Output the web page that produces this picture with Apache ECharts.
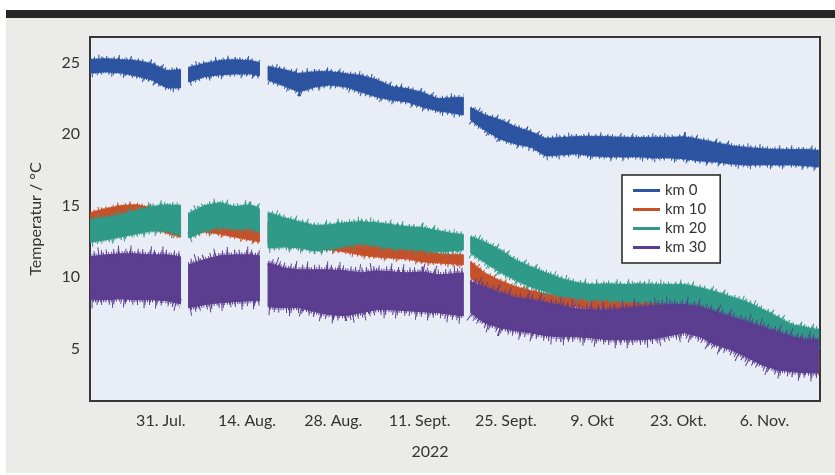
<!DOCTYPE html>
<html>
<head>
<meta charset="utf-8">
<script src="https://cdn.jsdelivr.net/npm/echarts@6/dist/echarts.min.js"></script>
<style>
  html, body { margin: 0; padding: 0; background: #ffffff; }
  #bar { position: absolute; left: 6px; top: 10px; width: 829px; height: 8px; background: #262626; }
  #panel { position: absolute; left: 6px; top: 18px; width: 829px; height: 455px; background: #ebebea; }
  #main { position: absolute; left: 0; top: 0; width: 835px; height: 475px; }
</style>
</head>
<body>
<div id="bar"></div>
<div id="panel"></div>
<div id="main"></div>
<script>
// Tage ab 31. Juli 2022 (null = Messlücke)
var days = [-11.4, -9, -6.5, -4, -1.5, 1, 3.2, null,
  4.5, 7, 9.5, 12, 14.5, 16, null,
  17.4, 20, 22.5, 25, 27.5, 30, 32.5, 35, 37.5, 40, 42.5, 45, 47.5, 49.1, null,
  50.3, 52.5, 55, 57.5, 60, 62.5, 65, 67.5, 70, 72.5, 75, 77.5, 80, 82.5, 85, 87.5, 90, 92.5, 95, 97.5, 100, 102.5, 105, 106.8];

var tickDays = [0, 14, 28, 42, 56, 70, 84, 98];
var tickLabels = ["31. Jul.", "14. Aug.", "28. Aug.", "11. Sept.", "25. Sept.", "9. Okt", "23. Okt.", "6. Nov."];
var yTicks = [5, 10, 15, 20, 25];

// obere / untere Hüllkurve je Station (°C)
var km0Hi = [25.21, 25.28, 25.21, 25.14, 24.93, 24.44, 24.51, null,
  24.65, 24.93, 25.14, 25.21, 25.14, 25.00, null,
  24.72, 24.51, 24.23, 24.37, 24.37, 24.23, 24.09, 23.81, 23.32, 23.18, 22.90, 22.48, 22.55, 22.55, null,
  21.85, 21.36, 21.01, 20.52, 20.17, 19.69, 19.76, 19.83, 19.83, 19.83, 19.76, 19.76, 19.76, 19.76, 19.83, 19.62, 19.41, 19.20, 19.06, 18.99, 18.92, 18.92, 18.92, 18.85];
var km0Lo = [24.30, 24.37, 24.30, 24.09, 23.81, 23.25, 23.25, null,
  23.67, 24.02, 24.16, 24.23, 24.23, 24.09, null,
  23.81, 23.39, 22.97, 23.32, 23.46, 23.32, 22.97, 22.62, 22.41, 22.27, 21.92, 21.64, 21.50, 21.36, null,
  21.01, 20.31, 19.69, 19.34, 19.13, 18.50, 18.57, 18.64, 18.50, 18.43, 18.43, 18.43, 18.36, 18.36, 18.29, 18.15, 18.08, 17.94, 17.87, 17.87, 17.87, 17.87, 17.80, 17.73];

var km10Hi = [14.51, 14.79, 15.00, 15.07, 14.86, 14.02, 13.81, null,
  14.37, 14.16, 14.02, 13.74, 13.60, 13.46, null,
  13.88, 13.46, 13.18, 13.04, 12.97, 12.90, 12.62, 12.34, 12.20, 12.06, 11.92, 11.64, 11.57, 11.57, null,
  11.08, 10.31, 9.76, 9.34, 9.06, 8.85, 8.71, 8.64, 8.57, 8.57, 8.50, 8.36, 8.29, 8.22, 8.22, 8.01, 7.66, 7.24, 6.75, 6.19, 5.63, 5.14, 4.79, 4.58];
var km10Lo = [13.53, 13.67, 13.88, 14.02, 13.46, 13.11, 12.83, null,
  12.97, 13.18, 13.04, 12.83, 12.62, 12.48, null,
  12.41, 12.20, 12.13, 11.99, 11.92, 11.78, 11.57, 11.43, 11.36, 11.29, 11.08, 11.01, 10.94, 10.87, null,
  9.97, 9.34, 8.92, 8.57, 8.29, 8.15, 8.01, 7.94, 7.80, 7.80, 7.73, 7.59, 7.52, 7.45, 7.38, 7.17, 6.75, 6.26, 5.70, 5.07, 4.51, 4.02, 3.53, 3.32];

var km20Hi = [14.02, 14.16, 14.37, 14.65, 14.93, 15.07, 15.00, null,
  14.44, 15.00, 15.21, 14.93, 15.07, 14.79, null,
  14.51, 14.16, 13.88, 13.60, 13.67, 13.81, 13.88, 13.81, 13.67, 13.53, 13.46, 13.25, 13.04, 12.97, null,
  12.83, 12.48, 11.92, 11.22, 10.73, 10.31, 9.90, 9.62, 9.48, 9.55, 9.48, 9.55, 9.48, 9.48, 9.48, 9.27, 8.99, 8.64, 8.29, 7.80, 7.24, 6.68, 6.47, 6.33];
var km20Lo = [12.48, 12.62, 12.83, 13.04, 13.25, 13.25, 12.97, null,
  12.76, 13.25, 13.53, 13.39, 13.46, 13.18, null,
  12.06, 12.13, 12.06, 11.85, 11.99, 12.20, 12.41, 12.20, 12.06, 11.99, 11.92, 11.78, 11.85, 11.92, null,
  11.71, 11.08, 10.38, 9.83, 9.34, 8.99, 8.71, 8.57, 8.43, 8.43, 8.36, 8.29, 8.29, 8.08, 8.01, 7.80, 7.52, 7.24, 6.89, 6.40, 5.91, 5.56, 5.21, 4.93];

var km30Hi = [11.43, 11.57, 11.64, 11.64, 11.57, 11.57, 11.43, null,
  10.87, 11.22, 11.50, 11.57, 11.57, 11.50, null,
  11.01, 10.66, 10.52, 10.52, 10.52, 10.45, 10.31, 10.45, 10.38, 10.31, 10.38, 10.17, 10.24, 10.31, null,
  9.69, 9.34, 8.92, 8.57, 8.43, 8.22, 8.01, 7.80, 7.73, 7.73, 7.80, 7.94, 8.01, 8.08, 8.08, 7.94, 7.59, 7.24, 6.89, 6.54, 6.19, 5.84, 5.63, 5.63];
var km30Lo = [8.43, 8.43, 8.50, 8.43, 8.43, 8.36, 8.15, null,
  7.87, 8.08, 8.22, 8.29, 8.36, 8.36, null,
  7.94, 7.87, 7.87, 7.59, 7.38, 7.31, 7.52, 7.73, 7.73, 7.66, 7.59, 7.52, 7.38, 7.31, null,
  7.52, 6.82, 6.47, 6.26, 6.12, 5.91, 5.84, 5.84, 5.77, 5.63, 5.63, 5.63, 5.70, 5.91, 6.12, 5.84, 5.28, 4.93, 4.44, 3.88, 3.53, 3.39, 3.32, 3.32];

var myChart = echarts.init(document.getElementById("main"));
var textColor = "#333333";
var fontFamily = "Lato, 'Open Sans', sans-serif";

// Abschnitte zwischen den Messlücken
function segments(hi) {
  var segs = [];
  var cur = [];
  for (var i = 0; i < days.length; i++) {
    if (days[i] === null || hi[i] === null) {
      if (cur.length) segs.push(cur);
      cur = [];
      continue;
    }
    cur.push(i);
  }
  if (cur.length) segs.push(cur);
  return segs;
}

// gestrichelte Randlinien -> "zackiger" Rand wie beim Messrauschen
function edge(pts, color, w, dash, offset) {
  return {
    type: "polyline",
    shape: { points: pts },
    style: { stroke: color, fill: null, lineWidth: w, lineDash: dash, lineDashOffset: offset, lineCap: "butt" }
  };
}

function bandSeries(name, hi, lo, color, spike) {
  var segs = segments(hi);
  return {
    type: "custom",
    name: name,
    silent: true,
    itemStyle: { color: color },
    data: segs.map(function (s) { return [days[s[0]], hi[s[0]]]; }),
    encode: { x: 0, y: 1 },
    renderItem: function (params, api) {
      var s = segs[params.dataIndex];
      var top = [], bot = [];
      for (var k = 0; k < s.length; k++) {
        top.push(api.coord([days[s[k]], hi[s[k]]]));
        bot.push(api.coord([days[s[k]], lo[s[k]]]));
      }
      var poly = top.concat(bot.slice().reverse());
      var children = [{
        type: "polygon",
        shape: { points: poly },
        style: { fill: color, stroke: color, lineWidth: 1 }
      }];
      [top, bot].forEach(function (p, n) {
        children.push(edge(p, color, 4 * spike, [1, 1.2, 1, 2], n * 3));
        children.push(edge(p, color, 8 * spike, [1, 3.5, 1, 6.5], n * 5 + 1));
        children.push(edge(p, color, 13 * spike, [1, 11, 1, 19], n * 7 + 4));
      });
      return { type: "group", children: children };
    }
  };
}

var option = {
  animation: false,
  grid: {
    left: 90, top: 37, right: 15, bottom: 74,
    show: true,
    backgroundColor: "#e9edf5",
    borderColor: "#363636",
    borderWidth: 2
  },
  xAxis: {
    type: "value",
    min: -11.5,
    max: 107,
    axisLine: { show: false },
    axisTick: { show: false },
    splitLine: { show: false },
    axisLabel: {
      customValues: tickDays,
      formatter: function (v) { return tickLabels[tickDays.indexOf(v)]; },
      color: textColor,
      fontSize: 16,
      fontFamily: fontFamily,
      margin: 12
    }
  },
  yAxis: {
    type: "value",
    min: 1.35,
    max: 26.8,
    name: "Temperatur / °C",
    nameLocation: "middle",
    nameGap: 46,
    nameTextStyle: { color: textColor, fontSize: 16, fontFamily: fontFamily },
    axisLine: { show: false },
    axisTick: { show: false },
    splitLine: { show: false },
    axisLabel: {
      customValues: yTicks,
      color: textColor,
      fontSize: 16,
      fontFamily: fontFamily,
      margin: 10
    }
  },
  legend: {
    orient: "vertical",
    left: 622,
    top: 175,
    padding: [8, 14, 8, 11],
    itemGap: 4,
    itemWidth: 27,
    itemHeight: 3,
    backgroundColor: "#ffffff",
    borderColor: "#222222",
    borderWidth: 1.5,
    borderRadius: 0,
    textStyle: { color: textColor, fontSize: 15, fontFamily: fontFamily },
    data: [
      { name: "km 0", icon: "rect" },
      { name: "km 10", icon: "rect" },
      { name: "km 20", icon: "rect" },
      { name: "km 30", icon: "rect" }
    ]
  },
  graphic: [{
    type: "text",
    x: 430,
    y: 452,
    style: {
      text: "2022",
      align: "center",
      verticalAlign: "middle",
      fontSize: 16,
      fontFamily: fontFamily,
      fill: textColor
    }
  }],
  series: [
    bandSeries("km 0", km0Hi, km0Lo, "#2c54a1", 0.7),
    bandSeries("km 10", km10Hi, km10Lo, "#c5512b", 0.6),
    bandSeries("km 20", km20Hi, km20Lo, "#2f9a88", 0.8),
    bandSeries("km 30", km30Hi, km30Lo, "#5b3e90", 1.3)
  ]
};

myChart.setOption(option);
</script>
</body>
</html>
